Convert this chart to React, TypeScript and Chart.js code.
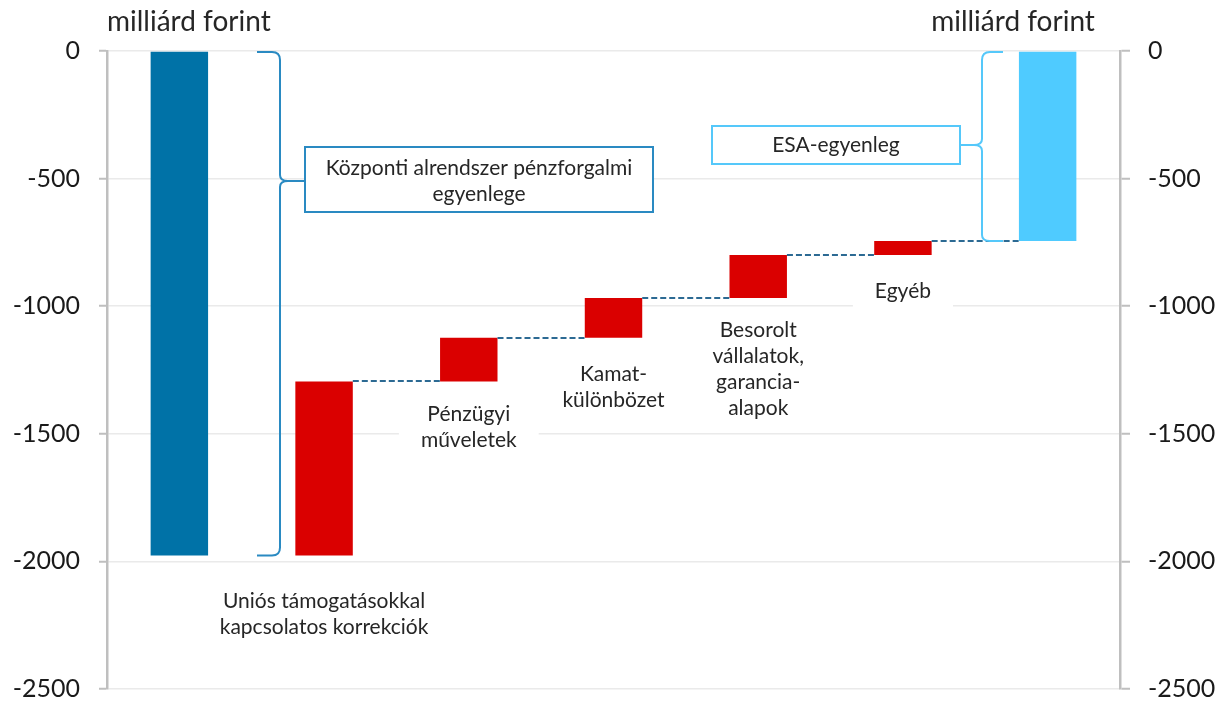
import React, { useEffect, useRef } from "react";
import { Chart, registerables } from "chart.js";

Chart.register(...registerables);

// ---- Data ----
const categories = [
  "Központi alrendszer pénzforgalmi egyenlege",
  "Uniós támogatásokkal kapcsolatos korrekciók",
  "Pénzügyi műveletek",
  "Kamatkülönbözet",
  "Besorolt vállalatok, garanciaalapok",
  "Egyéb",
  "ESA-egyenleg",
];
const barStart = [0, -1977, -1295, -1124, -968, -799, 0];
const barEnd = [-1977, -1295, -1124, -968, -799, -745, -745];
const tickValues = [0, -500, -1000, -1500, -2000, -2500];
const axisTitle = "milliárd forint";
const labelLines: (string[] | null)[] = [
  null,
  ["Uniós támogatásokkal", "kapcsolatos korrekciók"],
  ["Pénzügyi", "műveletek"],
  ["Kamat-", "különbözet"],
  ["Besorolt", "vállalatok,", "garancia-", "alapok"],
  ["Egyéb"],
  null,
];
const leftBoxLines = ["Központi alrendszer pénzforgalmi", "egyenlege"];
const rightBoxLines = ["ESA-egyenleg"];

// ---- Styles ----
const barColors = ["#0072A7", "#DA0000", "#DA0000", "#DA0000", "#DA0000", "#DA0000", "#4FCBFF"];
const FONT = 'Lato, "Noto Sans", sans-serif';
const TEXT = "#262626";
const labelOffsets = [0, 46, 33, 36, 32, 36, 0];

const annotatePlugin = {
  id: "annotate",
  afterDatasetsDraw(chart: any) {
    const ctx: CanvasRenderingContext2D = chart.ctx;
    const y = chart.scales.y;
    const area = chart.chartArea;
    const bars = chart.getDatasetMeta(0).data as any[];
    ctx.save();

    // dashed connectors
    ctx.setLineDash([6, 3]);
    ctx.lineWidth = 2;
    ctx.strokeStyle = "#2C6A93";
    for (let i = 1; i < bars.length - 1; i++) {
      const b = bars[i];
      const n = bars[i + 1];
      const py = Math.round(y.getPixelForValue(barEnd[i]));
      ctx.beginPath();
      ctx.moveTo(b.x + b.width / 2, py);
      ctx.lineTo(n.x - n.width / 2, py);
      ctx.stroke();
    }
    ctx.setLineDash([]);

    // category labels with white backgrounds
    ctx.font = `21px ${FONT}`;
    ctx.textAlign = "center";
    ctx.textBaseline = "middle";
    const lh = 26;
    labelLines.forEach((lines, i) => {
      if (!lines) return;
      const b = bars[i];
      const low = Math.min(barStart[i], barEnd[i]);
      const top = y.getPixelForValue(low) + labelOffsets[i];
      const w = Math.max(...lines.map((l) => ctx.measureText(l).width));
      ctx.fillStyle = "#FFFFFF";
      ctx.fillRect(b.x - w / 2 - 22, top - lh / 2 - 4, w + 44, lines.length * lh + 8);
      ctx.fillStyle = TEXT;
      lines.forEach((l, k) => ctx.fillText(l, b.x, top + k * lh));
    });

    // left brace + box
    const yTop = y.getPixelForValue(0) + 1;
    const yBot0 = y.getPixelForValue(barEnd[0]);
    const lx0 = 257, lxv = 280, lMid = 181, lBoxL = 305, lBoxR = 653, lBoxT = 147, lBoxB = 212;
    ctx.strokeStyle = "#2A8AC2";
    ctx.lineWidth = 2;
    ctx.beginPath();
    ctx.moveTo(lx0, yTop);
    ctx.lineTo(lxv - 8, yTop);
    ctx.quadraticCurveTo(lxv, yTop, lxv, yTop + 8);
    ctx.lineTo(lxv, lMid - 6);
    ctx.quadraticCurveTo(lxv, lMid, lxv + 8, lMid);
    ctx.lineTo(lBoxL, lMid);
    ctx.moveTo(lxv + 8, lMid);
    ctx.quadraticCurveTo(lxv, lMid, lxv, lMid + 6);
    ctx.lineTo(lxv, yBot0 - 8);
    ctx.quadraticCurveTo(lxv, yBot0, lxv - 8, yBot0);
    ctx.lineTo(lx0, yBot0);
    ctx.stroke();
    ctx.fillStyle = "#FFFFFF";
    ctx.fillRect(lBoxL, lBoxT, lBoxR - lBoxL, lBoxB - lBoxT);
    ctx.strokeRect(lBoxL, lBoxT, lBoxR - lBoxL, lBoxB - lBoxT);
    ctx.fillStyle = TEXT;
    ctx.fillText(leftBoxLines[0], (lBoxL + lBoxR) / 2, 168);
    ctx.fillText(leftBoxLines[1], (lBoxL + lBoxR) / 2, 194);

    // right brace + box
    const yBot6 = y.getPixelForValue(barEnd[6]);
    const rx0 = 1003, rxv = 982, rMid = 145, rBoxL = 712, rBoxR = 960, rBoxT = 126, rBoxB = 164;
    ctx.strokeStyle = "#55C8FA";
    ctx.beginPath();
    ctx.moveTo(rx0, yTop);
    ctx.lineTo(rxv + 8, yTop);
    ctx.quadraticCurveTo(rxv, yTop, rxv, yTop + 8);
    ctx.lineTo(rxv, rMid - 6);
    ctx.quadraticCurveTo(rxv, rMid, rxv - 8, rMid);
    ctx.lineTo(rBoxR, rMid);
    ctx.moveTo(rxv - 8, rMid);
    ctx.quadraticCurveTo(rxv, rMid, rxv, rMid + 6);
    ctx.lineTo(rxv, yBot6 - 6);
    ctx.quadraticCurveTo(rxv, yBot6, rxv + 8, yBot6);
    ctx.lineTo(rx0, yBot6);
    ctx.stroke();
    ctx.fillStyle = "#FFFFFF";
    ctx.fillRect(rBoxL, rBoxT, rBoxR - rBoxL, rBoxB - rBoxT);
    ctx.strokeRect(rBoxL, rBoxT, rBoxR - rBoxL, rBoxB - rBoxT);
    ctx.fillStyle = TEXT;
    ctx.fillText(rightBoxLines[0], (rBoxL + rBoxR) / 2, rMid);

    // axis titles
    ctx.font = `28px ${FONT}`;
    ctx.fillStyle = TEXT;
    ctx.textAlign = "left";
    ctx.fillText(axisTitle, area.left, 22);
    ctx.textAlign = "center";
    ctx.fillText(axisTitle, 1013, 22);

    ctx.restore();
  },
};

export default function App() {
  const ref = useRef<HTMLCanvasElement | null>(null);
  useEffect(() => {
    if (!ref.current) return;
    const yAxisBase = (position: "left" | "right", tickLength: number, padding: number, gridOnArea: boolean) => ({
      type: "linear" as const,
      position,
      min: -2500,
      max: 0,
      afterBuildTicks: (s: any) => {
        s.ticks = tickValues.map((v) => ({ value: v }));
      },
      afterFit: (s: any) => {
        s.width = 107;
        s.paddingTop = 0;
        s.paddingBottom = 0;
      },
      ticks: {
        color: "#1A1A1A",
        font: { family: FONT, size: 25, lineHeight: 1 },
        padding,
        callback: (v: any) => String(v),
      },
      grid: {
        color: "#EAEAEA",
        lineWidth: 1.5,
        tickColor: "#BFBFBF",
        tickLength,
        tickWidth: 2,
        drawOnChartArea: gridOnArea,
      },
      border: { color: "#BFBFBF", width: 2.5 },
    });
    const chart = new Chart(ref.current, {
      type: "bar",
      data: {
        labels: categories,
        datasets: [
          {
            data: barStart.map((s, i) => [s, barEnd[i]]) as any,
            backgroundColor: barColors,
            borderWidth: 0,
            barPercentage: 0.397,
            categoryPercentage: 1,
          },
        ],
      },
      options: {
        responsive: false,
        animation: false,
        layout: { padding: { top: 51, bottom: 13, left: 0, right: 0 } },
        plugins: { legend: { display: false }, tooltip: { enabled: false }, title: { display: false } },
        scales: {
          x: { type: "category", display: false },
          y: yAxisBase("left", 8, 19, true),
          y2: yAxisBase("right", 10, 18, false),
        } as any,
      },
      plugins: [annotatePlugin],
    });
    return () => chart.destroy();
  }, []);
  return (
    <div style={{ position: "fixed", left: 0, top: 0, width: 1227, height: 702, background: "#fff" }}>
      <canvas ref={ref} width={1227} height={702} style={{ width: 1227, height: 702, display: "block" }} />
    </div>
  );
}
